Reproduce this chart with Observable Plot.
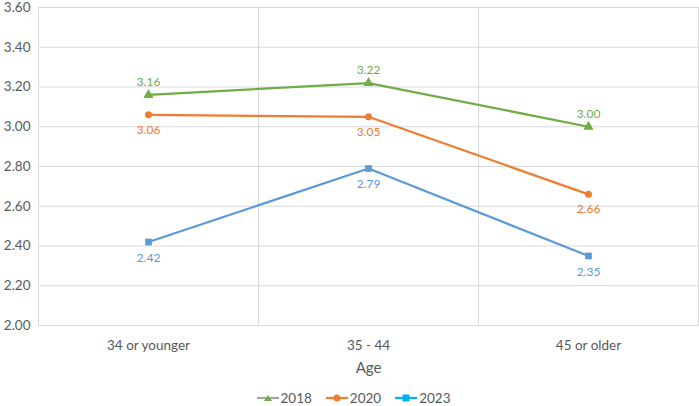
<!DOCTYPE html>
<html>
<head>
<meta charset="utf-8">
<script src="https://cdn.jsdelivr.net/npm/d3@7"></script>
<script src="https://cdn.jsdelivr.net/npm/@observablehq/plot@0.6"></script>
<style>
  html, body { margin: 0; padding: 0; background: #fff; }
  body { width: 699px; height: 406px; overflow: hidden; font-family: Lato, "Open Sans", sans-serif; }
  #legend { display: flex; justify-content: center; gap: 14px; font-size: 13.5px; color: #595959; height: 16px; line-height: 16px; margin-left: 8px; }
  #legend span { display: inline-flex; align-items: center; }
  #legend svg { margin-right: 2px; }
</style>
</head>
<body>
<div id="chart"></div>
<div id="legend"></div>
<script>
const ages = ["34 or younger", "35 - 44", "45 or older"];
const years = ["2018", "2020", "2023"];
const values2018 = [3.16, 3.22, 3.00];
const values2020 = [3.06, 3.05, 2.66];
const values2023 = [2.42, 2.79, 2.35];
const yTicks = [2.0, 2.2, 2.4, 2.6, 2.8, 3.0, 3.2, 3.4, 3.6];

const colors = {"2018": "#70ad47", "2020": "#ed7d31", "2023": "#5b9bd5"};
const symbols = {"2018": "triangle", "2020": "circle", "2023": "square"};
const labelPos = {"2018": -13, "2020": 15, "2023": 16};

const series = {"2018": values2018, "2020": values2020, "2023": values2023};
const data = years.flatMap(y => ages.map((a, i) => ({year: y, age: a, value: series[y][i]})));

const W = 699, H = 390;
const bandW = (W - 38 - 1) / 3;

const marks = [
  Plot.gridY(yTicks, {stroke: "#d9d9d9", strokeOpacity: 1}),
  Plot.ruleX(ages.slice(1), {dx: -bandW / 2, stroke: "#d9d9d9"}),
  Plot.frame({stroke: "#d9d9d9"}),
  Plot.axisY(yTicks, {tickFormat: d3.format(".2f"), tickSize: 0, tickPadding: 8, fontSize: 13.5, fill: "#595959", label: null}),
  Plot.axisX({tickSize: 0, tickPadding: 15, fontSize: 13.5, fill: "#595959", label: null}),
  Plot.text(["Age"], {frameAnchor: "bottom", dy: 47, fontSize: 15, fill: "#595959", text: d => d})
];
for (const y of years) {
  const d = data.filter(r => r.year === y);
  marks.push(Plot.lineY(d, {x: "age", y: "value", stroke: colors[y], strokeWidth: 2.25}));
  marks.push(Plot.dot(d, {x: "age", y: "value", fill: colors[y], symbol: symbols[y], r: y === "2020" ? 3.5 : 3.8, stroke: "none"}));
  marks.push(Plot.text(d, {x: "age", y: "value", text: r => r.value.toFixed(2), dy: labelPos[y], fill: colors[y], fontSize: 12}));
}

const chart = Plot.plot({
  width: W,
  height: H,
  marginLeft: 38,
  marginRight: 1,
  marginTop: 7,
  marginBottom: H - 325,
  style: {fontFamily: "Lato, 'Open Sans', sans-serif", background: "#fff"},
  x: {type: "band", domain: ages, padding: 0},
  y: {domain: [2.0, 3.6]},
  marks
});
document.getElementById("chart").appendChild(chart);

const legendColors = {"2018": {line: "#a5a5a5", mark: "#70ad47"}, "2020": {line: "#ed7d31", mark: "#ed7d31"}, "2023": {line: "#00b0f0", mark: "#00b0f0"}};
const leg = document.getElementById("legend");
for (const y of years) {
  const c = legendColors[y];
  let sym;
  if (symbols[y] === "triangle") sym = `<path d="M11,4 L15,10 L7,10 Z" fill="${c.mark}"/>`;
  else if (symbols[y] === "circle") sym = `<circle cx="11" cy="7" r="3.5" fill="${c.mark}"/>`;
  else sym = `<rect x="7.5" y="3.5" width="7" height="7" fill="${c.mark}"/>`;
  const s = document.createElement("span");
  s.innerHTML = `<svg width="22" height="14"><line x1="0" x2="22" y1="7" y2="7" stroke="${c.line}" stroke-width="2.25"/>${sym}</svg>${y}`;
  leg.appendChild(s);
}
</script>
</body>
</html>
